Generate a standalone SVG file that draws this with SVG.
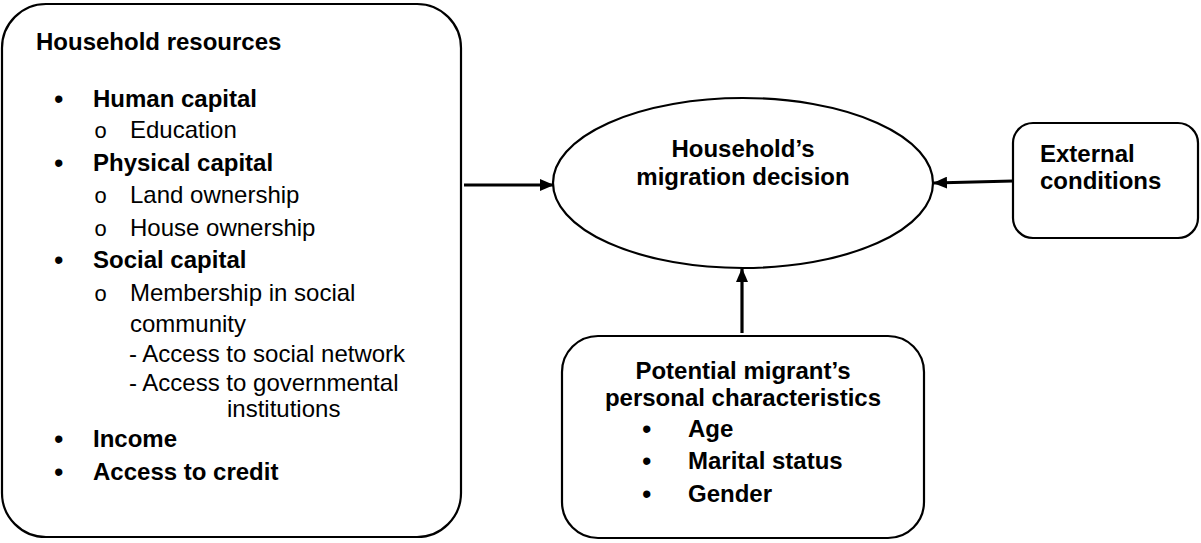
<svg xmlns="http://www.w3.org/2000/svg" width="1201" height="543" viewBox="0 0 1201 543">
<style>
.box{fill:#fff;stroke:#000;stroke-width:2.2}
.t{font-family:"Liberation Sans",Arial,sans-serif;font-size:24px;fill:#000}
.b{font-weight:bold}
.c{text-anchor:middle}
.bu{font-family:"Liberation Sans",Arial,sans-serif;font-size:27px;fill:#000}
.o{font-family:"Liberation Mono","Courier New",monospace;font-size:22px;fill:#000}
.conn{stroke:#000;stroke-width:3.2;fill:none}
</style>
<defs>
<marker id="ah" markerWidth="14" markerHeight="12" refX="13" refY="6" orient="auto" markerUnits="userSpaceOnUse">
<path d="M0,0 L14,6 L0,12 Z" fill="#000"/>
</marker>
</defs>
<g id="household-resources">
<rect class="box" x="2" y="4" width="459" height="533" rx="44" ry="44"/>
<text class="t b" x="36" y="50">Household resources</text>
<text class="bu" x="54" y="108">•</text><text class="t b" x="93" y="107">Human capital</text>
<text class="o" x="94" y="138">o</text><text class="t" x="130" y="138">Education</text>
<text class="bu" x="54" y="172">•</text><text class="t b" x="93" y="171">Physical capital</text>
<text class="o" x="94" y="203">o</text><text class="t" x="130" y="203">Land ownership</text>
<text class="o" x="94" y="236">o</text><text class="t" x="130" y="236">House ownership</text>
<text class="bu" x="54" y="269">•</text><text class="t b" x="93" y="268">Social capital</text>
<text class="o" x="94" y="301">o</text><text class="t" x="130" y="301">Membership in social</text>
<text class="t" x="130" y="332">community</text>
<text class="t" x="129" y="362">- Access to social network</text>
<text class="t" x="129" y="391">- Access to governmental</text>
<text class="t" x="227" y="417">institutions</text>
<text class="bu" x="54" y="448">•</text><text class="t b" x="93" y="447">Income</text>
<text class="bu" x="54" y="481">•</text><text class="t b" x="93" y="480">Access to credit</text>
</g>
<g id="migration-decision">
<ellipse class="box" cx="743" cy="183" rx="190" ry="85"/>
<text class="t b c" x="743" y="157">Household’s</text>
<text class="t b c" x="743" y="185">migration decision</text>
</g>
<g id="external-conditions">
<rect class="box" x="1013" y="123" width="185" height="115" rx="20" ry="20"/>
<text class="t b" x="1040" y="162">External</text>
<text class="t b" x="1040" y="189">conditions</text>
</g>
<g id="personal-characteristics">
<rect class="box" x="562" y="336" width="362" height="202" rx="36" ry="36"/>
<text class="t b c" x="743" y="379">Potential migrant’s</text>
<text class="t b c" x="743" y="406">personal characteristics</text>
<text class="bu" x="642" y="438">•</text><text class="t b" x="688" y="437">Age</text>
<text class="bu" x="642" y="470">•</text><text class="t b" x="688" y="469">Marital status</text>
<text class="bu" x="642" y="503">•</text><text class="t b" x="688" y="502">Gender</text>
</g>
<g id="connectors">
<line class="conn" x1="464" y1="185" x2="553" y2="185" marker-end="url(#ah)"/>
<line class="conn" x1="1013" y1="181" x2="934" y2="183" marker-end="url(#ah)"/>
<line class="conn" x1="742" y1="333" x2="742" y2="269" marker-end="url(#ah)"/>
</g>
</svg>
